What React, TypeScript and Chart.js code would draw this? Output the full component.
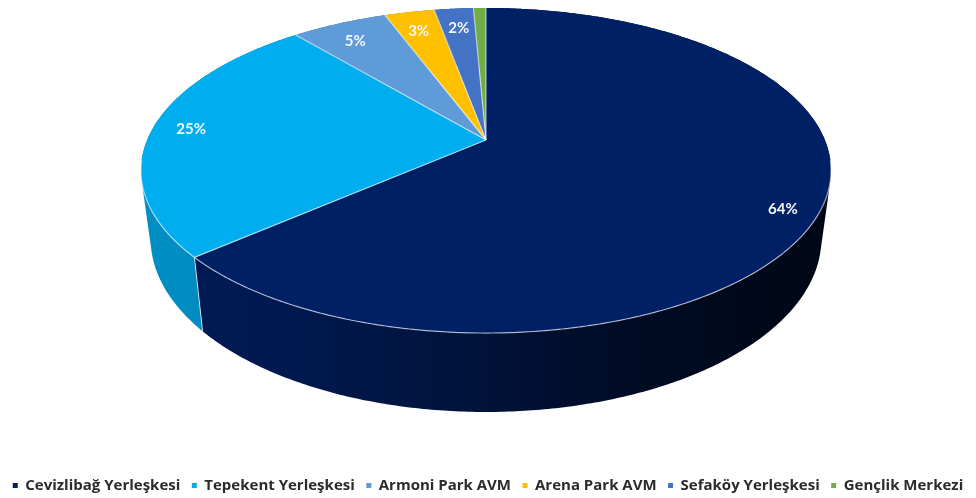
import React, { useEffect, useRef } from "react";
import { Chart, registerables } from "chart.js";

Chart.register(...registerables);

const categories = ["Cevizlibağ Yerleşkesi", "Tepekent Yerleşkesi", "Armoni Park AVM", "Arena Park AVM", "Sefaköy Yerleşkesi", "Gençlik Merkezi"];
const shares = [63.6, 25.3, 5.4, 2.8, 2.2, 0.7];
const colours = ["#002066", "#00aeef", "#5f9bd8", "#ffc000", "#4472c4", "#70ad47"];

const FONT = "Lato, 'Open Sans', sans-serif";
const LEGEND_FONT = "'Open Sans', Lato, sans-serif";
const CX = 486;
const CY = 140;
const K = 0.1877;
const A = 338.9;
const B = 156.8;
const SX = 0.972;
const SY = 1.067;
const DY = 66;
const STEP = 0.01;

function project(angle: number, r = 1): [number, number] {
  const u = Math.cos(angle) * r;
  const v = Math.sin(angle) * r;
  const w = 1 - K * v;
  return [(A * u) / w, (B * v) / w];
}
const topPt = (a: number, r = 1): [number, number] => {
  const [x, y] = project(a, r);
  return [CX + x, CY + y];
};
const botPt = (a: number): [number, number] => {
  const [x, y] = project(a);
  return [CX + x * SX, CY + y * SY + DY];
};
function shade(hex: string, f: number) {
  const n = parseInt(hex.slice(1), 16);
  const c = [(n >> 16) & 255, (n >> 8) & 255, n & 255].map((v) => Math.round(v * f));
  return `rgb(${c[0]},${c[1]},${c[2]})`;
}
const wallStops: [number, number][] = [
  [0, 0.82],
  [0.2, 0.78],
  [0.5, 0.56],
  [0.72, 0.34],
  [1, 0.22],
];

const pie3d = {
  id: "pie3d",
  beforeDatasetsDraw(chart: any) {
    const ctx: CanvasRenderingContext2D = chart.ctx;
    const arcs: any[] = chart.getDatasetMeta(0).data;
    ctx.save();
    // side walls: every strip joins the upper rim to the lower rim, all wound the same way
    arcs.forEach((arc) => {
      const col: string = arc.options.backgroundColor;
      const n = Math.max(2, Math.ceil((arc.endAngle - arc.startAngle) / STEP));
      const at = (i: number) => arc.startAngle + ((arc.endAngle - arc.startAngle) * i) / n;
      ctx.beginPath();
      for (let i = 0; i < n; i++) {
        const quad = [topPt(at(i)), topPt(at(i + 1)), botPt(at(i + 1)), botPt(at(i))];
        let area = 0;
        quad.forEach((p, j) => {
          const q = quad[(j + 1) % 4];
          area += p[0] * q[1] - q[0] * p[1];
        });
        if (area < 0) quad.reverse();
        quad.forEach((p, j) => (j ? ctx.lineTo(p[0], p[1]) : ctx.moveTo(p[0], p[1])));
        ctx.closePath();
      }
      const g = ctx.createLinearGradient(CX - 345, 0, CX + 345, 0);
      wallStops.forEach(([s, f]) => g.addColorStop(s, shade(col, f)));
      ctx.fillStyle = g;
      ctx.fill("nonzero");
    });
    // seam on the front wall
    arcs.forEach((arc) => {
      const a = arc.endAngle;
      if (Math.sin(a) > 0.05) {
        const p = topPt(a);
        const q = botPt(a);
        ctx.beginPath();
        ctx.moveTo(p[0], p[1]);
        ctx.lineTo(q[0], q[1]);
        ctx.strokeStyle = "rgba(255,255,255,0.7)";
        ctx.lineWidth = 1;
        ctx.stroke();
      }
    });
    // top faces
    arcs.forEach((arc) => {
      const n = Math.max(4, Math.ceil((arc.endAngle - arc.startAngle) / STEP));
      ctx.beginPath();
      ctx.moveTo(CX, CY);
      for (let i = 0; i <= n; i++) {
        const p = topPt(arc.startAngle + ((arc.endAngle - arc.startAngle) * i) / n);
        ctx.lineTo(p[0], p[1]);
      }
      ctx.closePath();
      ctx.fillStyle = arc.options.backgroundColor;
      ctx.fill();
    });
    // slice edges and the front rim
    ctx.strokeStyle = "rgba(255,255,255,0.6)";
    ctx.lineWidth = 1.2;
    arcs.forEach((arc) => {
      const p = topPt(arc.startAngle);
      ctx.beginPath();
      ctx.moveTo(CX, CY);
      ctx.lineTo(p[0], p[1]);
      ctx.stroke();
      const n = Math.max(4, Math.ceil((arc.endAngle - arc.startAngle) / STEP));
      ctx.beginPath();
      let pen = false;
      for (let i = 0; i <= n; i++) {
        const a = arc.startAngle + ((arc.endAngle - arc.startAngle) * i) / n;
        if (Math.sin(a) > 0.12) {
          const q = topPt(a);
          pen ? ctx.lineTo(q[0], q[1]) : ctx.moveTo(q[0], q[1]);
          pen = true;
        } else {
          pen = false;
        }
      }
      ctx.stroke();
    });
    // percentage labels
    ctx.font = `bold 15px ${FONT}`;
    ctx.fillStyle = "#f4f6fb";
    ctx.textAlign = "center";
    ctx.textBaseline = "middle";
    arcs.forEach((arc, i) => {
      if (shares[i] < 1) return;
      const mid = (arc.startAngle + arc.endAngle) / 2;
      const p = topPt(mid, 0.89);
      ctx.fillText(`${Math.round(shares[i])}%`, p[0] + 2, p[1] + (i === 1 ? 0 : 7));
    });
    ctx.restore();
    return false;
  },
};

export default function App() {
  const ref = useRef<HTMLCanvasElement>(null);
  useEffect(() => {
    document.body.style.margin = "0";
    const chart = new Chart(ref.current!, {
      type: "pie",
      data: {
        labels: categories,
        datasets: [{ data: shares, backgroundColor: colours, borderWidth: 0 }],
      },
      options: {
        responsive: false,
        animation: false,
        layout: { padding: { bottom: -5 } },
        plugins: {
          tooltip: { enabled: false },
          legend: {
            position: "bottom",
            labels: {
              usePointStyle: true,
              pointStyle: "rect",
              boxWidth: 5,
              boxHeight: 5,
              pointStyleWidth: 5,
              padding: 11.5,
              color: "#2b2b2b",
              font: { family: LEGEND_FONT, size: 15, weight: "bold" },
            },
          },
        },
      },
      plugins: [pie3d],
    } as any);
    return () => chart.destroy();
  }, []);
  return <canvas ref={ref} width={976} height={498} style={{ display: "block", width: 976, height: 498, filter: "blur(0.45px)" }} />;
}
